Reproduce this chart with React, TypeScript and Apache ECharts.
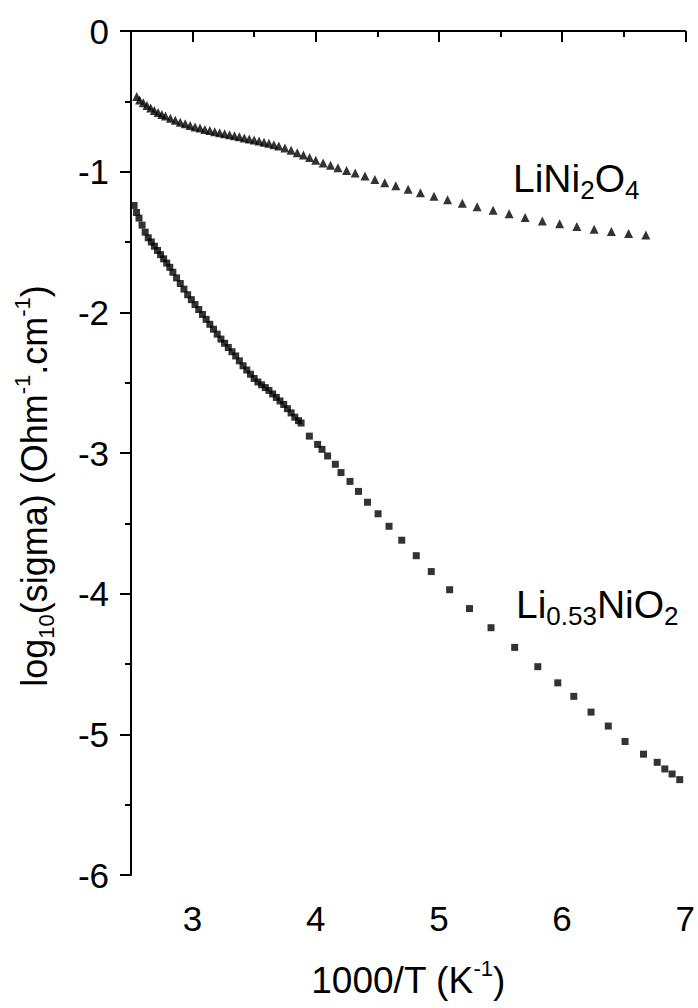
import React, { useEffect, useRef } from 'react';
import * as echarts from 'echarts';

const FONT = '"Liberation Sans", Arial, Helvetica, sans-serif';

const xMajorTicks = [3, 4, 5, 6, 7];
const xMinorTicks = [2.5, 3.5, 4.5, 5.5, 6.5];
const yMajorTicks = [0, -1, -2, -3, -4, -5, -6];
const yMinorTicks = [-0.5, -1.5, -2.5, -3.5, -4.5, -5.5];

// LiNi2O4 (triangles)
const triX = [
  2.546, 2.57, 2.6, 2.63, 2.66, 2.69, 2.72, 2.75, 2.78, 2.82, 2.86, 2.9, 2.94, 2.98, 3.02, 3.06,
  3.1, 3.14, 3.18, 3.22, 3.26, 3.3, 3.34, 3.38, 3.42, 3.46, 3.5, 3.54, 3.58, 3.62, 3.66, 3.7,
  3.75, 3.8, 3.85, 3.9, 3.95, 4.0, 4.06, 4.12, 4.18, 4.25, 4.32, 4.4, 4.48, 4.56, 4.65, 4.75,
  4.85, 4.96, 5.07, 5.19, 5.31, 5.44, 5.57, 5.7, 5.84, 5.98, 6.12, 6.26, 6.4, 6.54, 6.68,
];
const triY = [
  -0.465, -0.49, -0.51, -0.53, -0.548, -0.565, -0.58, -0.594, -0.605, -0.62, -0.635, -0.648, -0.66, -0.672, -0.682, -0.69,
  -0.7, -0.708, -0.716, -0.723, -0.731, -0.738, -0.745, -0.752, -0.76, -0.767, -0.775, -0.782, -0.79, -0.798, -0.808, -0.818,
  -0.832, -0.848, -0.865, -0.882, -0.9, -0.918, -0.938, -0.955, -0.972, -0.992, -1.01, -1.03, -1.055, -1.078, -1.1, -1.125,
  -1.15, -1.175, -1.2, -1.225, -1.25, -1.275, -1.3, -1.325, -1.35, -1.37, -1.39, -1.41, -1.425, -1.44, -1.45,
];

// Li0.53NiO2 (squares)
const sqX = [
  2.525, 2.545, 2.565, 2.59, 2.615, 2.64, 2.665, 2.69, 2.715, 2.74, 2.765, 2.79, 2.815, 2.84, 2.87, 2.9,
  2.93, 2.96, 2.99, 3.02, 3.05, 3.08, 3.11, 3.14, 3.17, 3.2, 3.23, 3.26, 3.29, 3.32, 3.35, 3.38,
  3.41, 3.44, 3.47, 3.5, 3.53, 3.56, 3.59, 3.62, 3.65, 3.68, 3.71, 3.74, 3.77, 3.8, 3.83, 3.86,
  3.881, 3.948, 4.015, 4.051, 4.096, 4.159, 4.205, 4.278, 4.347, 4.42, 4.506, 4.595, 4.698, 4.816, 4.938, 5.087,
  5.248, 5.423, 5.615, 5.803, 5.965, 6.095, 6.235, 6.375, 6.511, 6.661, 6.772, 6.834, 6.893, 6.955,
];
const sqY = [
  -1.24, -1.29, -1.33, -1.38, -1.43, -1.47, -1.5, -1.53, -1.56, -1.59, -1.62, -1.65, -1.68, -1.715, -1.755, -1.795,
  -1.835, -1.875, -1.91, -1.945, -1.98, -2.015, -2.05, -2.085, -2.12, -2.155, -2.19, -2.22, -2.25, -2.28, -2.31, -2.345,
  -2.38, -2.41, -2.44, -2.47, -2.495, -2.515, -2.535, -2.555, -2.58, -2.605, -2.63, -2.655, -2.685, -2.715, -2.745, -2.77,
  -2.787, -2.88, -2.939, -2.974, -3.021, -3.08, -3.139, -3.202, -3.273, -3.35, -3.432, -3.521, -3.62, -3.73, -3.843, -3.972,
  -4.106, -4.242, -4.382, -4.519, -4.634, -4.73, -4.842, -4.941, -5.051, -5.141, -5.199, -5.246, -5.282, -5.322,
];

export default function App() {
  const ref = useRef<HTMLDivElement>(null);
  useEffect(() => {
    const chart = echarts.init(ref.current!, null, { renderer: 'svg' });
    const black = '#000';
    const subStyle = { fontSize: 22, fontFamily: FONT, color: black, verticalAlign: 'bottom', lineHeight: 22 };
    const supStyle = { fontSize: 22, fontFamily: FONT, color: black, verticalAlign: 'top', lineHeight: 22 };
    const labelSub = { fontSize: 26, fontFamily: FONT, fill: black, verticalAlign: 'bottom', lineHeight: 26 };
    chart.setOption({
      animation: false,
      backgroundColor: '#fff',
      grid: { left: 131, right: 11, top: 31, bottom: 125, containLabel: false },
      xAxis: [
        {
          type: 'value', min: 2.5, max: 7, position: 'bottom',
          axisLine: { show: true, lineStyle: { color: black, width: 2 } },
          axisTick: { show: true, customValues: xMajorTicks, length: 11, lineStyle: { color: black, width: 2 } },
          axisLabel: { customValues: xMajorTicks, margin: 26, fontSize: 35, color: black, fontFamily: FONT },
          splitLine: { show: false },
          name: '1000/T (K{sup|-1})', nameLocation: 'middle', nameGap: 82,
          nameTextStyle: { fontSize: 37, fontFamily: FONT, color: black, lineHeight: 46, rich: { sup: supStyle } },
        },
        {
          type: 'value', min: 2.5, max: 7, position: 'bottom',
          axisLine: { show: false },
          axisTick: { show: true, customValues: xMinorTicks, length: 6, lineStyle: { color: black, width: 2 } },
          axisLabel: { show: false },
          splitLine: { show: false },
        },
      ],
      yAxis: [
        {
          type: 'value', min: -6, max: 0, position: 'left',
          axisLine: { show: true, lineStyle: { color: black, width: 2 } },
          axisTick: { show: true, customValues: yMajorTicks, length: 11, lineStyle: { color: black, width: 2 } },
          axisLabel: { customValues: yMajorTicks, margin: 22, fontSize: 35, color: black, fontFamily: FONT },
          splitLine: { show: false },
          name: 'log{sub|10}(sigma) (Ohm{sup|-1}.cm{sup|-1})', nameLocation: 'middle', nameGap: 74,
          nameTextStyle: {
            fontSize: 36, fontFamily: FONT, color: black, lineHeight: 46, padding: [0, 66, 0, 0],
            rich: { sub: subStyle, sup: supStyle },
          },
        },
        {
          type: 'value', min: -6, max: 0, position: 'left',
          axisLine: { show: false },
          axisTick: { show: true, customValues: yMinorTicks, length: 6, lineStyle: { color: black, width: 2 } },
          axisLabel: { show: false },
          splitLine: { show: false },
        },
      ],
      graphic: [
        {
          type: 'text', left: 513, top: 153,
          style: {
            text: 'LiNi{sub|2}O{sub|4}', fontSize: 39, fontFamily: FONT, fill: black, lineHeight: 50,
            rich: { sub: labelSub },
          },
        },
        {
          type: 'text', left: 516, top: 579,
          style: {
            text: 'Li{sub|0.53}NiO{sub|2}', fontSize: 39, fontFamily: FONT, fill: black, lineHeight: 50,
            rich: { sub: labelSub },
          },
        },
      ],
      series: [
        {
          name: 'LiNi2O4', type: 'scatter', xAxisIndex: 0, yAxisIndex: 0,
          symbol: 'triangle', symbolSize: 9, itemStyle: { color: black },
          data: triX.map((x, i) => [x, triY[i]]),
        },
        {
          name: 'Li0.53NiO2', type: 'scatter', xAxisIndex: 0, yAxisIndex: 0,
          symbol: 'rect', symbolSize: 7, itemStyle: { color: black },
          data: sqX.map((x, i) => [x, sqY[i]]),
        },
      ],
    });
    return () => chart.dispose();
  }, []);
  return (
    <div
      ref={ref}
      style={{ position: 'fixed', left: 0, top: 0, width: 698, height: 1008, background: '#fff' }}
    />
  );
}
